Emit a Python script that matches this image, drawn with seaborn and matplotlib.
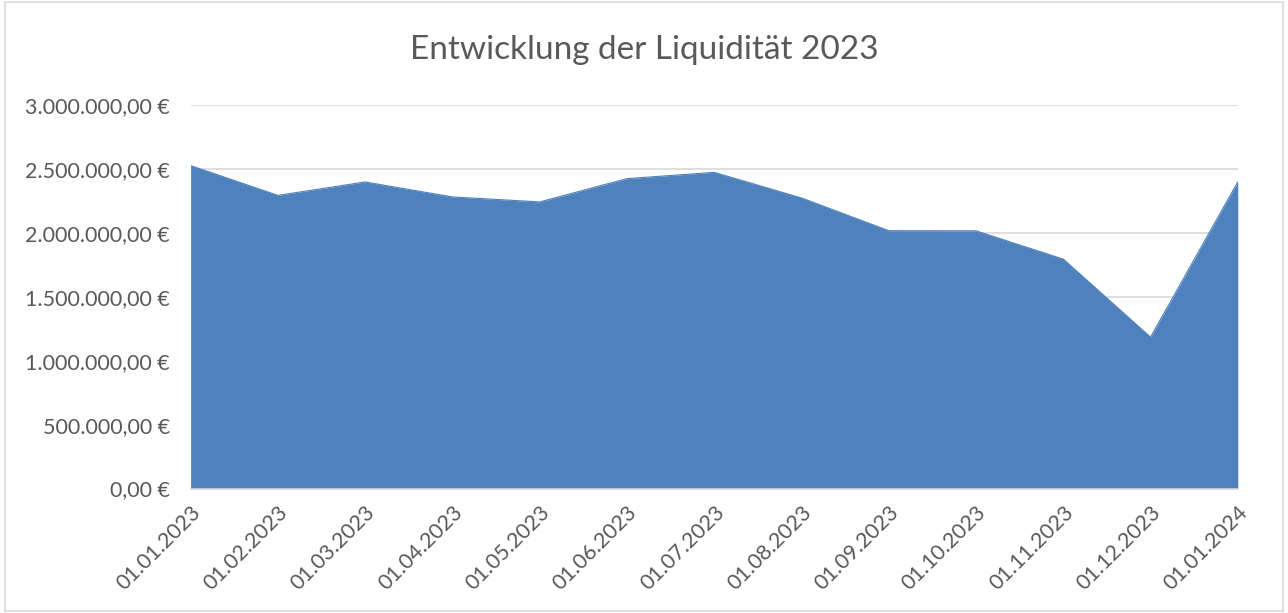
import pandas as pd
import seaborn as sns
import matplotlib.pyplot as plt
from matplotlib.ticker import FuncFormatter, MultipleLocator
from matplotlib.patches import Rectangle

# Liquidity values
dates = ['01.01.2023', '01.02.2023', '01.03.2023', '01.04.2023', '01.05.2023',
         '01.06.2023', '01.07.2023', '01.08.2023', '01.09.2023', '01.10.2023',
         '01.11.2023', '01.12.2023', '01.01.2024']
liquidity = [2525000, 2292000, 2397000, 2280000, 2241000,
             2423000, 2472000, 2272000, 2016000, 2015000,
             1794000, 1184000, 2397000]

df = pd.DataFrame({'Datum': dates, 'Liquiditaet': liquidity})
df['pos'] = range(len(df))

sns.set_style('white')
plt.rcParams['font.family'] = ['Lato', 'DejaVu Sans']

text_color = '#595959'
fill_color = '#4f81bd'

fig, ax = plt.subplots(figsize=(12.88, 6.13), dpi=100)
fig.subplots_adjust(left=0.148, right=0.961, top=0.829, bottom=0.203)

sns.lineplot(x='pos', y='Liquiditaet', data=df, color=fill_color, linewidth=0.8, ax=ax)
ax.fill_between(df['pos'], df['Liquiditaet'], color=fill_color, linewidth=0, zorder=2)

ax.set_xlim(0, len(df) - 1)
ax.set_ylim(0, 3000000)
ax.yaxis.set_major_locator(MultipleLocator(500000))


def euro(v, pos):
    s = f"{v:,.2f}".replace(',', 'X').replace('.', ',').replace('X', '.')
    return s + ' €'


ax.yaxis.set_major_formatter(FuncFormatter(euro))
ax.set_xticks(df['pos'])
ax.set_xticklabels(df['Datum'], rotation=45, ha='right', rotation_mode='anchor')

ax.grid(axis='y', color='#d9d9d9', linewidth=1.2)
ax.set_axisbelow(True)
for side in ['top', 'right', 'left']:
    ax.spines[side].set_visible(False)
ax.spines['bottom'].set_color('#d9d9d9')
ax.spines['bottom'].set_linewidth(1.2)
ax.tick_params(axis='x', colors='#d9d9d9', length=6, width=1.2, labelcolor=text_color,
               labelsize=15.5, pad=4)
ax.tick_params(axis='y', length=0, labelcolor=text_color, labelsize=15.5, pad=15)

ax.set_xlabel('')
ax.set_ylabel('')
fig.text(0.5, 0.918, 'Entwicklung der Liquidität 2023', fontsize=24, color=text_color,
         ha='center', va='center')

fig.patches.append(Rectangle((0.004, 0.004), 0.992, 0.992, transform=fig.transFigure,
                             fill=False, edgecolor='#d9d9d9', linewidth=1.2))

plt.savefig('out.png', dpi=100)
